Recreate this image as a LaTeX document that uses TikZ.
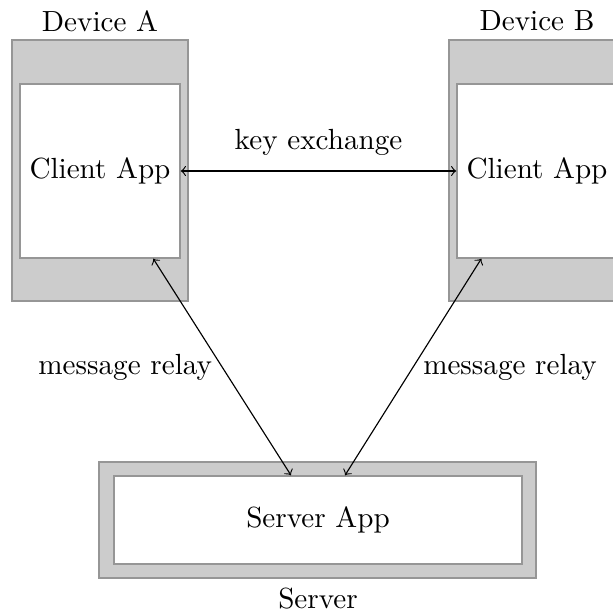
\documentclass[tikz,border=0pt]{standalone}
\usetikzlibrary{calc}
\definecolor{boxfill}{RGB}{204,204,204}
\definecolor{boxline}{RGB}{150,150,150}
\begin{document}
\begin{tikzpicture}[x=0.35pt,y=-0.35pt,
  every node/.append style={font=\fontsize{10.2pt}{12pt}\selectfont},
  outerbox/.style={draw=boxline,fill=boxfill,inner sep=0pt,line width=0.5pt},
  innerbox/.style={draw=boxline,fill=white,inner sep=0pt,line width=0.5pt},
  conn/.style={<->,black,line width=0.4pt}]
\useasboundingbox (0,0) rectangle (613,613);
\clip (0,0) rectangle (613,613);
% Device A
\node[outerbox,minimum width=176*0.35pt,minimum height=261*0.35pt] (devA) at (100,170.5) {};
\node[innerbox,minimum width=160*0.35pt,minimum height=174*0.35pt] (appA) at (100,171) {Client App};
\node (labA) at (100,21) {Device A};
% Device B
\node[outerbox,minimum width=176*0.35pt,minimum height=261*0.35pt] (devB) at (537,170.5) {};
\node[innerbox,minimum width=160*0.35pt,minimum height=174*0.35pt] (appB) at (537,171) {Client App};
\node (labB) at (537,21) {Device B};
% Server
\node[outerbox,minimum width=437*0.35pt,minimum height=116*0.35pt] (srv) at (317.5,520) {};
\node[innerbox,minimum width=408*0.35pt,minimum height=88*0.35pt] (srvApp) at (318,520) {Server App};
\node (labS) at (318,599) {Server};
% connectors
\draw[conn] (appA.east) -- node[midway,above=1.75pt] (kx) {key exchange} (appB.west);
\draw[conn] ($(appA.south west)!0.83!(appA.south east)$) -- node[midway,left] (mrA) {message relay} ($(srvApp.north west)!0.434!(srvApp.north east)$);
\draw[conn] ($(appB.south west)!0.155!(appB.south east)$) -- node[midway,right] (mrB) {message relay} ($(srvApp.north west)!0.566!(srvApp.north east)$);
\end{tikzpicture}
\end{document}
